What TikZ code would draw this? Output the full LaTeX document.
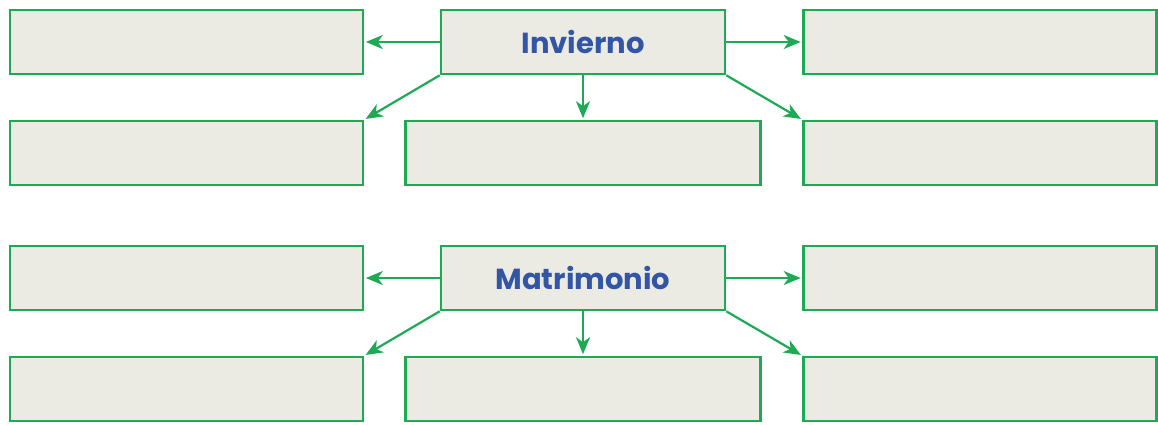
\documentclass[tikz,border=0pt]{standalone}
\usepackage{fontspec}
\setsansfont{Poppins}
\usetikzlibrary{arrows.meta}
\definecolor{boxgreen}{RGB}{30,170,85}
\definecolor{boxfill}{RGB}{235,235,228}
\definecolor{wordblue}{RGB}{50,85,165}

\begin{document}
\begin{tikzpicture}[x=1pt, y=-1pt,
  box/.style={draw=boxgreen, line width=2.6pt, fill=boxfill, inner sep=0pt,
    minimum width=353pt, minimum height=64pt},
  keybox/.style={box, minimum width=284pt, font=\sffamily\bfseries\fontsize{29}{29}\selectfont,
    text=wordblue},
  link/.style={draw=boxgreen, line width=2.2pt, shorten >=1.5pt,
    -{Stealth[length=17pt, width=14pt, inset=5pt]}}]
\useasboundingbox (0,0) rectangle (1158,424);

% two groups, the second one 236 lower
\foreach \word/\g/\dy in {Invierno/a/0, Matrimonio/b/236} {
  % key word
  \node[keybox] (\g key) at (583,42+\dy) {\word};
  % empty boxes
  \node[box] (\g tl) at (186.5,42+\dy) {};
  \node[box] (\g tr) at (980,42+\dy) {};
  \node[box] (\g bl) at (186.5,153+\dy) {};
  \node[box, minimum width=355pt] (\g bm) at (583,153+\dy) {};
  \node[box] (\g br) at (980,153+\dy) {};

  % arrows
  \draw[link] (\g key.west) -- (\g tl.east);
  \draw[link] (\g key.east) -- (\g tr.west);
  \draw[link] (\g key.south west) -- (\g bl.north east);
  \draw[link] (\g key.south) -- (\g bm.north);
  \draw[link] (\g key.south east) -- (\g br.north west);
}
\end{tikzpicture}
\end{document}
